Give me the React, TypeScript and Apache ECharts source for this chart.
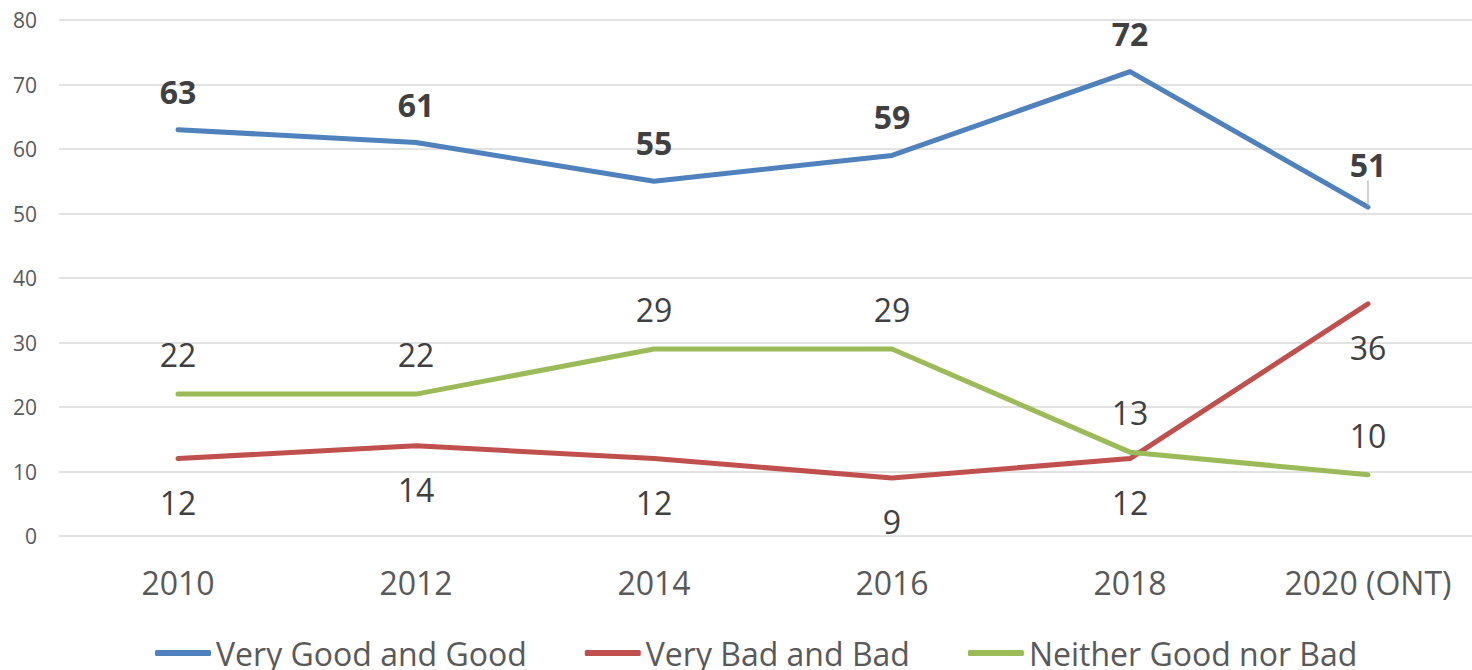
import React, { useEffect, useRef } from "react";
import * as echarts from "echarts";

const categories = ["2010", "2012", "2014", "2016", "2018", "2020 (ONT)"];
const veryGood = [63, 61, 55, 59, 72, 51];
const veryBad = [12, 14, 12, 9, 12, 36];
const neither = [22, 22, 29, 29, 13, 9.5];
const yTicks = { min: 0, max: 80, interval: 10 };

const FONT = "Open Sans";

export default function App() {
  const ref = useRef<HTMLDivElement>(null);
  useEffect(() => {
    if (!ref.current) return;
    const chart = echarts.init(ref.current, undefined, { renderer: "svg" });
    const mkSeries = (name: string, data: any[], color: string, pos: string, dist: number, bold: boolean, extra: any = {}) => ({
      name,
      type: "line",
      data,
      symbol: "circle",
      symbolSize: 1,
      itemStyle: { color },
      lineStyle: { color, width: 5, cap: "round", join: "round" },
      label: {
        show: true,
        position: pos,
        distance: dist,
        fontFamily: FONT,
        fontSize: 32,
        fontWeight: bold ? "bold" : "normal",
        color: "#404040",
        formatter: (p: any) => String(Math.round(p.value)),
      },
      ...extra,
    });
    const goodData = veryGood.map((v, i) =>
      i === veryGood.length - 1
        ? { value: v, labelLine: { show: true, lineStyle: { color: "#a6a6a6", width: 1 } } }
        : v
    );
    chart.setOption({
      animation: false,
      backgroundColor: "#ffffff",
      textStyle: { fontFamily: FONT },
      grid: { left: 59, right: -15, top: 20, bottom: 134, containLabel: false, outerBoundsMode: "none" },
      xAxis: {
        type: "category",
        data: categories,
        boundaryGap: true,
        axisLine: { show: false },
        axisTick: { show: false },
        axisLabel: { fontFamily: FONT, fontSize: 32, color: "#595959", margin: 30 },
      },
      yAxis: {
        type: "value",
        min: yTicks.min,
        max: yTicks.max,
        interval: yTicks.interval,
        axisLine: { show: false },
        axisTick: { show: false },
        splitLine: { lineStyle: { color: "#d9d9d9", width: 1.5 } },
        axisLabel: { fontFamily: FONT, fontSize: 21, color: "#595959", margin: 22 },
      },
      legend: {
        left: 150,
        top: 632,
        itemWidth: 56,
        itemHeight: 6,
        itemGap: 58,
        icon: "roundRect",
        textStyle: { fontFamily: FONT, fontSize: 32, color: "#595959", lineHeight: 32 },
        data: ["Very Good and Good", "Very Bad and Bad", "Neither Good nor Bad"],
      },
      series: [
        mkSeries("Very Good and Good", goodData, "#4f81bd", "top", 22, true, {
          labelLine: { show: false, lineStyle: { color: "#a6a6a6", width: 1 } },
          labelLayout: (p: any) => (p.dataIndex === 5 ? { dy: -4 } : {}),
        }),
        mkSeries("Very Bad and Bad", veryBad, "#c0504d", "bottom", 27, false),
        mkSeries("Neither Good nor Bad", neither, "#9bbb59", "top", 23, false),
      ],
    });
    return () => chart.dispose();
  }, []);
  return (
    <div
      ref={ref}
      style={{ position: "absolute", left: 0, top: 0, width: 1472, height: 670, background: "#fff" }}
    />
  );
}
